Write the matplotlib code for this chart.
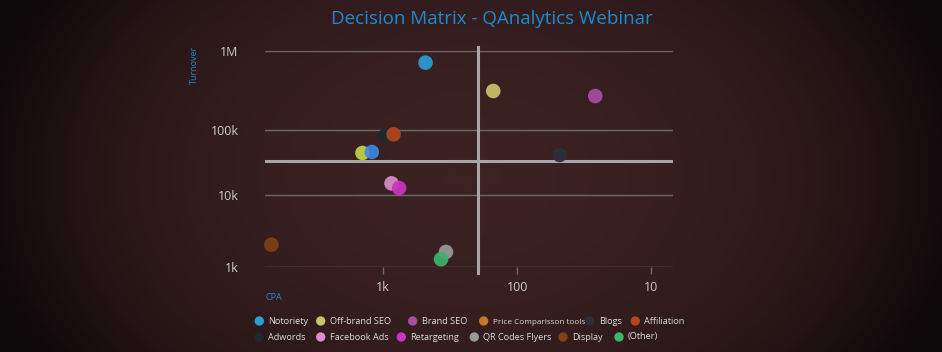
import matplotlib
matplotlib.use("Agg")
import matplotlib.pyplot as plt
import numpy as np
from matplotlib.colors import LinearSegmentedColormap

# --- data ---
SERIES = ["Notoriety", "Off-brand SEO", "Brand SEO", "Blogs", "Adwords",
          "Affiliation", None, None, "Facebook Ads", "Retargeting",
          "Display", "QR Codes Flyers", "(Other)"]
CPA = [483, 151, 26.2, 48.3, 971, 836, 1425, 1214, 866, 760, 6810, 340, 370]
TURNOVER = [1.085e6, 398e3, 333e3, 41.2e3, 80.9e3, 85.9e3, 44.3e3, 45.9e3,
            15.1e3, 12.8e3, 1.72e3, 1.33e3, 1.03e3]
POINT_COLORS = ["#2a9fd6", "#c9c46a", "#a84ca4", "#2c2e3c", "#1c2a30",
                "#b4461e", "#c6d44a", "#3f86e0", "#d990cc", "#cc33c0",
                "#7f4212", "#9a9a9a", "#3cb46a"]

LEGEND_NAMES = ["Notoriety", "Off-brand SEO", "Brand SEO", "Price Comparisson tools",
                "Blogs", "Affiliation", "Adwords", "Facebook Ads", "Retargeting",
                "QR Codes Flyers", "Display", "(Other)"]
LEGEND_COLORS = ["#2a9fd6", "#c9c46a", "#a84ca4", "#c8762a", "#2c2e3c", "#b4461e",
                 "#1c2a30", "#d990cc", "#cc33c0", "#9a9a9a", "#7f4212", "#3cb46a"]

Y_TICKS = [789, 1e4, 1e5, 1.64e6]
Y_LABELS = ["1k", "10k", "100k", "1M"]
X_TICKS = [1000, 100, 10]
X_LABELS = ["1k", "100", "10"]
CPA_SPLIT = 195
TURNOVER_SPLIT = 33e3

W, H = 942, 352
fig = plt.figure(figsize=(W / 100, H / 100), dpi=100)
plt.rcParams["font.family"] = ["Open Sans", "DejaVu Sans"]

# background: dark reddish with vignette
bg = fig.add_axes([0, 0, 1, 1], zorder=-10)
xx = np.linspace(-1, 1, 400)
yy = np.linspace(-1, 1, 150)
X, Y = np.meshgrid(xx, yy)
vign = np.clip(1 - (X ** 2) * 0.9 - (Y ** 2) * 0.25, 0, 1)
cmap = LinearSegmentedColormap.from_list("bgc", ["#0e090b", "#2a1718", "#3c2222"])
bg.imshow(vign, cmap=cmap, aspect="auto", extent=[0, 1, 0, 1], vmin=0, vmax=1)
bg.axis("off")

ax = fig.add_axes([265 / W, 1 - 266.7 / H, 408 / W, (266.7 - 51) / H])
ax.set_facecolor("none")
ax.set_xscale("log")
ax.set_yscale("log")
ax.set_xlim(7600, 6.9)
ax.set_ylim(Y_TICKS[0], Y_TICKS[-1])

for yv in Y_TICKS:
    ax.axhline(yv, color="#6e6a6a", lw=1.0, zorder=1)
ax.axhline(TURNOVER_SPLIT, color="#a8a6a6", lw=2.2, zorder=2)
ax.axvline(CPA_SPLIT, ymin=-0.03, ymax=1.02, color="#a8a6a6", lw=2.2,
           zorder=2, clip_on=False)

ax.scatter(CPA, TURNOVER, s=110, c=POINT_COLORS, alpha=0.92,
           edgecolors="none", zorder=3, clip_on=False)

for s in ax.spines.values():
    s.set_visible(False)
ax.set_yticks(Y_TICKS)
ax.set_yticklabels(Y_LABELS)
ax.set_xticks(X_TICKS)
ax.set_xticklabels(X_LABELS)
ax.minorticks_off()
ax.tick_params(axis="y", length=0, pad=19, labelcolor="#cccccc", labelsize=9)
ax.tick_params(axis="x", length=5, width=1, color="#6e6a6a", pad=5,
               labelcolor="#cccccc", labelsize=9)

fig.text(492 / W, 1 - 19 / H, "Decision Matrix - QAnalytics Webinar",
         ha="center", va="center", fontsize=13.5, color="#1c8bd0")
fig.text(194 / W, 1 - 65 / H, "Turnover", rotation=90, ha="center",
         va="center", fontsize=6.5, color="#1c8ad0")
fig.text(265 / W, 1 - 297 / H, "CPA", ha="left", va="center",
         fontsize=6.5, color="#1c8ad0")

# legend, laid out like the reference (two flowing rows)
LEG_X = [259.3, 320.7, 412.7, 483.7, 589.7, 635.3,
         259.3, 320.7, 401.3, 474.3, 563, 619]
LEG_Y = [321] * 6 + [337] * 6
lg = fig.add_axes([0, 0, 1, 1], zorder=5)
lg.set_xlim(0, W)
lg.set_ylim(H, 0)
lg.axis("off")
for name, col, lx, ly in zip(LEGEND_NAMES, LEGEND_COLORS, LEG_X, LEG_Y):
    lg.scatter([lx], [ly], s=45, color=col, edgecolors="none")
    fs = 5.9 if name.startswith("Price") else 6.6
    lg.text(lx + 9, ly + (1 if name.startswith("Price") else 0), name,
            ha="left", va="center", fontsize=fs, color="#dcdcdc")

fig.savefig("out.png", dpi=100)
